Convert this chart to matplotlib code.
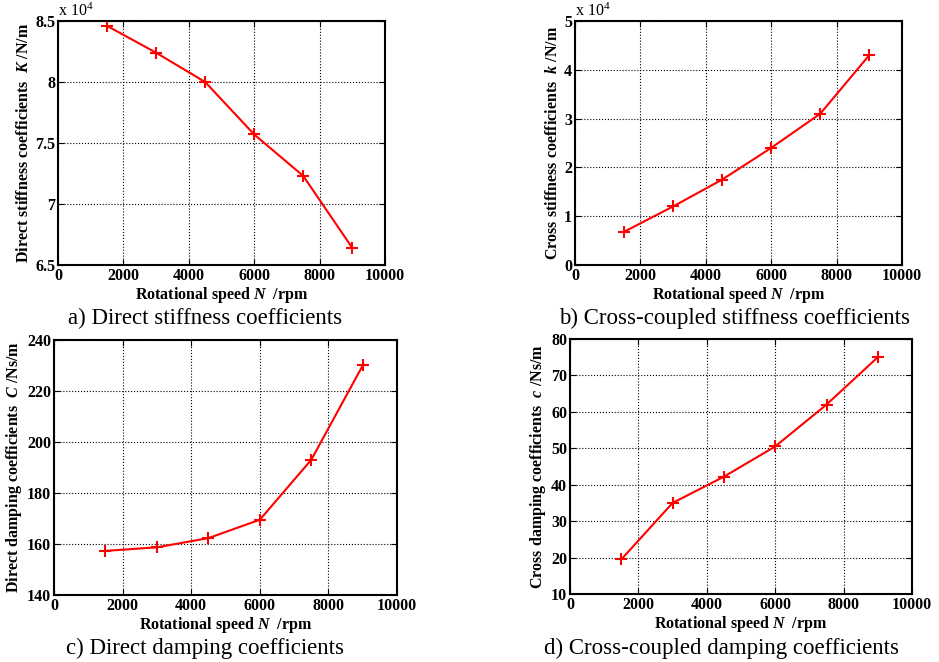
import matplotlib.pyplot as plt

plt.rcParams['font.family'] = ['Liberation Serif', 'DejaVu Serif']
plt.rcParams['mathtext.fontset'] = 'custom'
plt.rcParams['mathtext.rm'] = 'Liberation Serif'
plt.rcParams['mathtext.it'] = 'Liberation Serif:italic'
plt.rcParams['mathtext.bf'] = 'Liberation Serif:bold'
plt.rcParams['mathtext.bfit'] = 'Liberation Serif:italic:bold'

speed = [1500, 3000, 4500, 6000, 7500, 9000]
direct_stiffness = [8.46, 8.24, 8.00, 7.57, 7.23, 6.64]   # x 10^4 N/m
cross_stiffness = [0.68, 1.20, 1.75, 2.40, 3.10, 4.30]    # x 10^4 N/m
direct_damping = [157.3, 158.7, 162.3, 169.5, 193.0, 230.0]
cross_damping = [19.5, 35.0, 42.2, 50.5, 62.0, 75.0]

panels = [
    # data, ylim, yticks, ylabel, symbol, unit, caption, x10^4 note, axes box (px), caption centre (px)
    (direct_stiffness, (6.5, 8.5), [6.5, 7, 7.5, 8, 8.5], 'Direct stiffness coefficients  ', 'K', ' /N/m',
     'a) Direct stiffness coefficients', True, (58, 21, 385, 265), (205, 318)),
    (cross_stiffness, (0, 5), [0, 1, 2, 3, 4, 5], 'Cross stiffness coefficients  ', 'k', ' /N/m',
     'b) Cross-coupled stiffness coefficients', True, (575, 21, 902, 265), (735, 318)),
    (direct_damping, (140, 240), [140, 160, 180, 200, 220, 240], 'Direct damping coefficients  ', 'C', ' /Ns/m',
     'c) Direct damping coefficients', False, (54, 340, 397, 595), (205, 648)),
    (cross_damping, (10, 80), [10, 20, 30, 40, 50, 60, 70, 80], 'Cross damping coefficients  ', 'c', ' /Ns/m',
     'd) Cross-coupled damping coefficients', False, (570, 339, 912, 594), (722, 648)),
]

W, H = 939, 662
fig = plt.figure(figsize=(W / 100, H / 100), dpi=100)

for data, ylim, yticks, ylab, sym, unit, caption, sci, (x0, y0, x1, y1), (cx, cy) in panels:
    ax = fig.add_axes([x0 / W, 1 - y1 / H, (x1 - x0) / W, (y1 - y0) / H])
    ax.plot(speed, data, color='red', lw=1.5, marker='+', ms=8, mew=1.5)
    ax.set_xlim(0, 10000)
    ax.set_ylim(*ylim)
    ax.set_xticks([0, 2000, 4000, 6000, 8000, 10000])
    ax.set_yticks(yticks)
    ax.set_yticklabels([('%g' % t) for t in yticks])
    ax.grid(True, color='black', linestyle=':', linewidth=0.8)
    ax.tick_params(direction='in', length=4, labelsize=11.5, pad=2, top=True, right=True)
    for lab in ax.get_xticklabels() + ax.get_yticklabels():
        lab.set_fontweight('bold')
    for s in ax.spines.values():
        s.set_linewidth(1.5)
    ax.set_xlabel(r'Rotational speed $\mathbfit{N}$  /rpm', fontsize=11.5, fontweight='bold', labelpad=1)
    ax.set_ylabel(ylab + r'$\mathbfit{' + sym + r'}$' + unit, fontsize=11.5, fontweight='bold', labelpad=2)
    if sci:
        ax.text(0.0, 1.005, r'x 10$^4$', transform=ax.transAxes, fontsize=11.5, ha='left', va='bottom')
    fig.text(cx / W, 1 - cy / H, caption, fontsize=16.5, ha='center', va='center')

fig.savefig('out.png', dpi=100)
